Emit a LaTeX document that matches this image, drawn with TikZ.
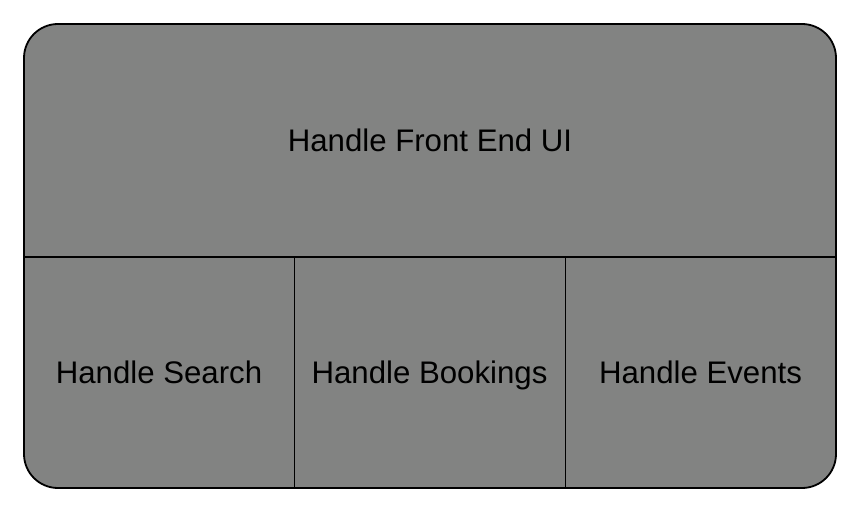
\documentclass[tikz,border=0pt]{standalone}
\usepackage{fontspec}
\setmainfont{Liberation Sans}
\definecolor{panelgray}{HTML}{828382}
\begin{document}
\begin{tikzpicture}[x=1pt,y=1pt,
  label/.style={font=\fontsize{31.2}{34}\selectfont, text=black, inner sep=0pt,
                anchor=base, yshift=-11pt},
  divider/.style={line width=1.4pt, draw=black}]
\useasboundingbox (0,0) rectangle (860,512);
% outer panel
\node[draw=black, line width=1.8pt, fill=panelgray, rounded corners=34pt,
      minimum width=812pt, minimum height=464pt, inner sep=0pt] (panel) at (430,256) {};
% cell regions
\node[minimum width=812pt, minimum height=233pt, inner sep=0pt] (ui) at (430,371.5) {};
\node[minimum width=270pt, minimum height=231pt, inner sep=0pt] (search) at (159,139.5) {};
\node[minimum width=271pt, minimum height=231pt, inner sep=0pt] (bookings) at (429.5,139.5) {};
\node[minimum width=271pt, minimum height=231pt, inner sep=0pt] (events) at (700.5,139.5) {};
% dividers
\draw[divider] (ui.south west) -- (ui.south east);
\draw[divider] (search.north east) -- (search.south east);
\draw[divider] (bookings.north east) -- (bookings.south east);
% labels, baselines set so the capitals sit centred in each cell
\node[label] (uitext) at (ui.center) {Handle Front End UI};
\node[label] (searchtext) at (search.center) {Handle Search};
\node[label] (bookingstext) at (bookings.center) {Handle Bookings};
\node[label] (eventstext) at (events.center) {Handle Events};
\end{tikzpicture}
\end{document}
